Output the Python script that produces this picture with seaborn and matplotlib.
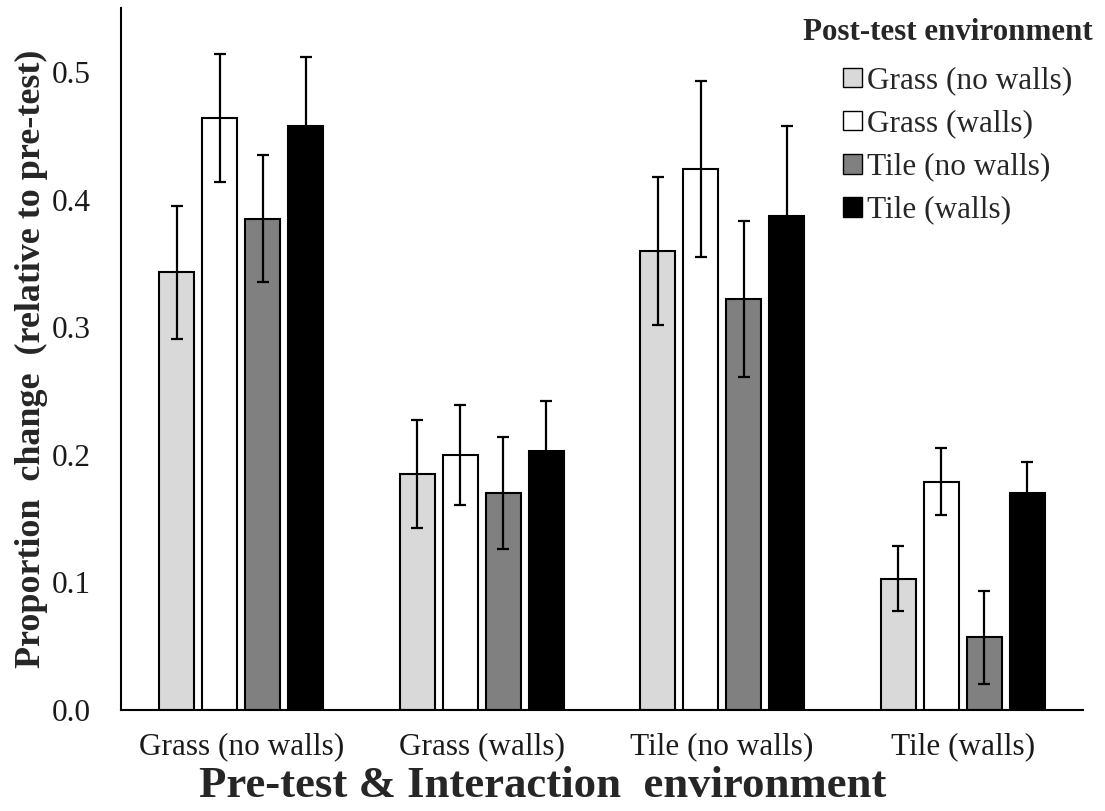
import numpy as np
import pandas as pd
import matplotlib
matplotlib.use("Agg")
import matplotlib.pyplot as plt
from matplotlib.patches import Patch
import seaborn as sns

# pre-test & interaction environment (x groups)
PRE_ENV = ['Grass (no walls)', 'Grass (walls)', 'Tile (no walls)', 'Tile (walls)']
# post-test environment (hue)
POST_ENV = ['Grass (no walls)', 'Grass (walls)', 'Tile (no walls)', 'Tile (walls)']

# mean proportion change, one list per post-test environment (order of PRE_ENV)
grass_nowalls = [0.343, 0.185, 0.360, 0.103]
grass_walls = [0.464, 0.200, 0.424, 0.179]
tile_nowalls = [0.385, 0.170, 0.322, 0.057]
tile_walls = [0.458, 0.203, 0.387, 0.170]

# error bar half-lengths
err_grass_nowalls = [0.052, 0.042, 0.058, 0.0255]
err_grass_walls = [0.050, 0.039, 0.069, 0.0265]
err_tile_nowalls = [0.050, 0.044, 0.061, 0.0365]
err_tile_walls = [0.054, 0.039, 0.071, 0.024]

COLORS = ['#d9d9d9', '#ffffff', '#808080', '#000000']

means = [grass_nowalls, grass_walls, tile_nowalls, tile_walls]
errs = [err_grass_nowalls, err_grass_walls, err_tile_nowalls, err_tile_walls]

rows = []
for post, vals in zip(POST_ENV, means):
    for pre, v in zip(PRE_ENV, vals):
        rows.append({'pre': pre, 'post': post, 'value': v})
df = pd.DataFrame(rows)

sns.set_theme(style="white")
plt.rcParams['font.family'] = ['Liberation Serif', 'DejaVu Serif']

fig = plt.figure(figsize=(11.05, 8.11), dpi=100)
ax = fig.add_axes([0.1095, 0.1245, 0.8705, 0.8655])

sns.barplot(data=df, x='pre', y='value', hue='post', order=PRE_ENV, hue_order=POST_ENV,
            palette=dict(zip(POST_ENV, COLORS)), errorbar=None, width=0.716, gap=0.19,
            edgecolor='black', linewidth=1.5, legend=False, ax=ax)

# error bars on top of each bar
for container, e, m in zip(ax.containers, errs, means):
    xs = [bar.get_x() + bar.get_width() / 2 for bar in container]
    ax.errorbar(xs, m, yerr=e, fmt='none', ecolor='black', elinewidth=1.6,
                capsize=4, capthick=1.6, zorder=5)

ax.set_xlim(-0.5, 3.5)
ax.set_ylim(0, 0.55)
ax.set_yticks([0.0, 0.1, 0.2, 0.3, 0.4, 0.5])
ax.set_yticklabels(['0.0', '0.1', '0.2', '0.3', '0.4', '0.5'])
ax.tick_params(axis='y', length=0, pad=22, labelsize=22.5, colors='#1a1a1a')
ax.tick_params(axis='x', length=0, pad=16, labelsize=22.5, colors='#1a1a1a')

for side in ['top', 'right']:
    ax.spines[side].set_visible(False)
for side in ['left', 'bottom']:
    ax.spines[side].set_color('black')
    ax.spines[side].set_linewidth(1.5)

ax.set_xlabel('Pre-test & Interaction  environment', fontsize=32.2, fontweight='bold')
ax.set_ylabel('Proportion  change  (relative to pre-test)', fontsize=25.9, fontweight='bold')
ax.xaxis.set_label_coords(0.438, -0.08)
ax.yaxis.set_label_coords(-0.076, 0.5)

handles = [Patch(facecolor=c, edgecolor='black', linewidth=1.0) for c in COLORS]
ax.legend(handles, POST_ENV, loc='upper left', bbox_to_anchor=(0.763, 0.918),
          bbox_transform=fig.transFigure, frameon=False, fontsize=22.5,
          handlelength=0.6, handleheight=0.6, handletextpad=0.15,
          labelspacing=0.45, borderpad=0, borderaxespad=0)
fig.text(803 / 1105, 1 - 32 / 811, 'Post-test environment', fontsize=22.3,
         fontweight='bold', ha='left', va='center')

fig.savefig('out.png', dpi=100)
